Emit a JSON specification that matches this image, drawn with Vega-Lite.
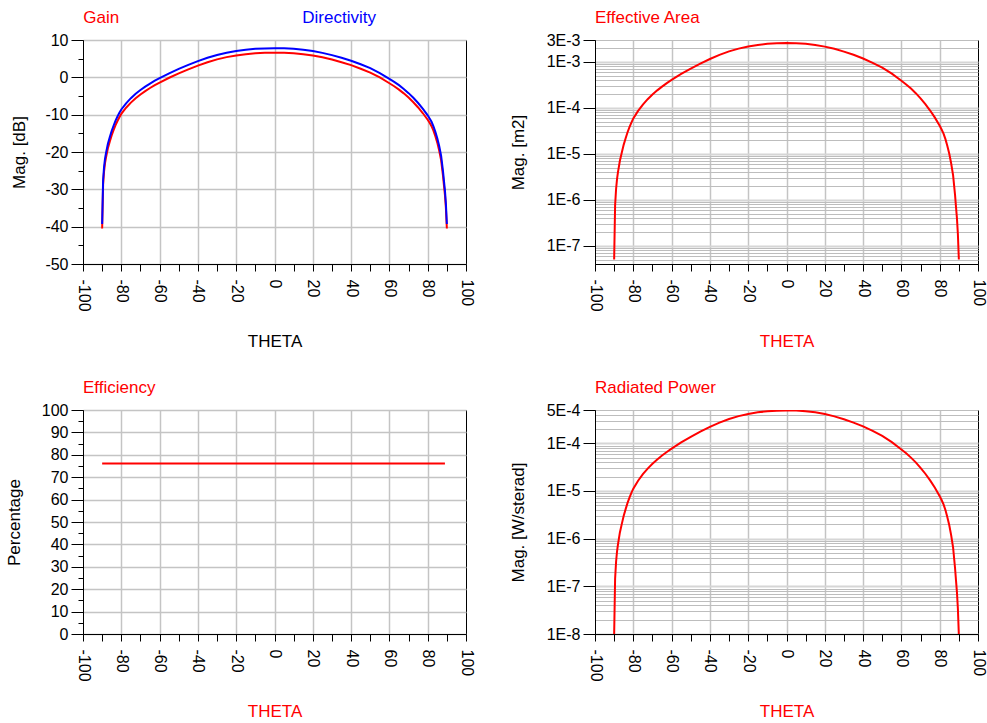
{
  "$schema": "https://vega.github.io/schema/vega-lite/v6.json",
  "padding": {"left": 4, "top": 8, "right": 0, "bottom": 0},
  "background": "white",
  "bounds": "flush",
  "columns": 2,
  "spacing": {"row": 146, "column": 129},
  "config": {
    "font": "Liberation Sans",
    "view": {"stroke": "#000000", "strokeWidth": 1},
    "axis": {
      "labelFont": "Liberation Sans", "labelFontSize": 16, "labelColor": "#000000",
      "titleFont": "Liberation Sans", "titleFontSize": 17, "titleFontWeight": "normal", "titleColor": "#000000",
      "domainColor": "#000000", "domainWidth": 1, "tickColor": "#000000", "tickWidth": 1,
      "gridColor": "#c4c4c4", "gridWidth": 1.5,
      "labelOverlap": false, "labelFlush": false, "labelBound": false
    },
    "title": {"font": "Liberation Sans", "fontSize": 17, "fontWeight": "normal", "color": "#ff0000", "anchor": "start", "frame": "group", "baseline": "alphabetic", "offset": 5.5}
  },
  "datasets": {
    "pattern": [
      {"theta": -90, "Directivity": -39.3, "Gain": -40.49, "efficiency": 76.1, "effArea": 5.01e-8, "radPower": 9.55e-9},
      {"theta": -89.5, "Directivity": -27.5, "Gain": -28.69, "efficiency": 76.1, "effArea": 7.59e-7, "radPower": 1.445e-7},
      {"theta": -89, "Directivity": -24.0, "Gain": -25.19, "efficiency": 76.1, "effArea": 1.698e-6, "radPower": 3.236e-7},
      {"theta": -88.5, "Directivity": -21.8, "Gain": -22.99, "efficiency": 76.1, "effArea": 2.818e-6, "radPower": 5.37e-7},
      {"theta": -88, "Directivity": -20.3, "Gain": -21.49, "efficiency": 76.1, "effArea": 3.981e-6, "radPower": 7.59e-7},
      {"theta": -87, "Directivity": -17.8, "Gain": -18.99, "efficiency": 76.1, "effArea": 7.079e-6, "radPower": 1.349e-6},
      {"theta": -86, "Directivity": -16.0, "Gain": -17.19, "efficiency": 76.1, "effArea": 1.072e-5, "radPower": 2.042e-6},
      {"theta": -85, "Directivity": -14.3, "Gain": -15.49, "efficiency": 76.1, "effArea": 1.585e-5, "radPower": 3.02e-6},
      {"theta": -84, "Directivity": -12.9, "Gain": -14.09, "efficiency": 76.1, "effArea": 2.188e-5, "radPower": 4.169e-6},
      {"theta": -83, "Directivity": -11.6, "Gain": -12.79, "efficiency": 76.1, "effArea": 2.951e-5, "radPower": 5.623e-6},
      {"theta": -82, "Directivity": -10.5, "Gain": -11.69, "efficiency": 76.1, "effArea": 3.802e-5, "radPower": 7.244e-6},
      {"theta": -81, "Directivity": -9.5, "Gain": -10.69, "efficiency": 76.1, "effArea": 4.786e-5, "radPower": 9.12e-6},
      {"theta": -80, "Directivity": -8.6, "Gain": -9.79, "efficiency": 76.1, "effArea": 5.888e-5, "radPower": 1.122e-5},
      {"theta": -77.5, "Directivity": -6.95, "Gain": -8.14, "efficiency": 76.1, "effArea": 8.61e-5, "radPower": 1.641e-5},
      {"theta": -75, "Directivity": -5.58, "Gain": -6.77, "efficiency": 76.1, "effArea": 1.18e-4, "radPower": 2.249e-5},
      {"theta": -72.5, "Directivity": -4.41, "Gain": -5.6, "efficiency": 76.1, "effArea": 1.545e-4, "radPower": 2.944e-5},
      {"theta": -70, "Directivity": -3.4, "Gain": -4.59, "efficiency": 76.1, "effArea": 1.95e-4, "radPower": 3.715e-5},
      {"theta": -67.5, "Directivity": -2.49, "Gain": -3.68, "efficiency": 76.1, "effArea": 2.404e-4, "radPower": 4.581e-5},
      {"theta": -65, "Directivity": -1.67, "Gain": -2.86, "efficiency": 76.1, "effArea": 2.904e-4, "radPower": 5.534e-5},
      {"theta": -62.5, "Directivity": -0.91, "Gain": -2.1, "efficiency": 76.1, "effArea": 3.459e-4, "radPower": 6.592e-5},
      {"theta": -60, "Directivity": -0.21, "Gain": -1.4, "efficiency": 76.1, "effArea": 4.064e-4, "radPower": 7.745e-5},
      {"theta": -55, "Directivity": 1.08, "Gain": -0.11, "efficiency": 76.1, "effArea": 5.47e-4, "radPower": 1.042e-4},
      {"theta": -50, "Directivity": 2.25, "Gain": 1.06, "efficiency": 76.1, "effArea": 7.161e-4, "radPower": 1.365e-4},
      {"theta": -45, "Directivity": 3.34, "Gain": 2.15, "efficiency": 76.1, "effArea": 9.204e-4, "radPower": 1.754e-4},
      {"theta": -40, "Directivity": 4.34, "Gain": 3.15, "efficiency": 76.1, "effArea": 1.159e-3, "radPower": 2.208e-4},
      {"theta": -35, "Directivity": 5.24, "Gain": 4.05, "efficiency": 76.1, "effArea": 1.426e-3, "radPower": 2.716e-4},
      {"theta": -30, "Directivity": 6.0, "Gain": 4.81, "efficiency": 76.1, "effArea": 1.698e-3, "radPower": 3.236e-4},
      {"theta": -25, "Directivity": 6.6, "Gain": 5.41, "efficiency": 76.1, "effArea": 1.95e-3, "radPower": 3.715e-4},
      {"theta": -20, "Directivity": 7.06, "Gain": 5.87, "efficiency": 76.1, "effArea": 2.168e-3, "radPower": 4.13e-4},
      {"theta": -15, "Directivity": 7.4, "Gain": 6.21, "efficiency": 76.1, "effArea": 2.344e-3, "radPower": 4.467e-4},
      {"theta": -10, "Directivity": 7.63, "Gain": 6.44, "efficiency": 76.1, "effArea": 2.472e-3, "radPower": 4.71e-4},
      {"theta": -5, "Directivity": 7.75, "Gain": 6.56, "efficiency": 76.1, "effArea": 2.541e-3, "radPower": 4.842e-4},
      {"theta": 0, "Directivity": 7.8, "Gain": 6.61, "efficiency": 76.1, "effArea": 2.57e-3, "radPower": 4.898e-4},
      {"theta": 5, "Directivity": 7.77, "Gain": 6.58, "efficiency": 76.1, "effArea": 2.553e-3, "radPower": 4.864e-4},
      {"theta": 10, "Directivity": 7.65, "Gain": 6.46, "efficiency": 76.1, "effArea": 2.483e-3, "radPower": 4.732e-4},
      {"theta": 15, "Directivity": 7.4, "Gain": 6.21, "efficiency": 76.1, "effArea": 2.344e-3, "radPower": 4.467e-4},
      {"theta": 20, "Directivity": 7.03, "Gain": 5.84, "efficiency": 76.1, "effArea": 2.153e-3, "radPower": 4.102e-4},
      {"theta": 25, "Directivity": 6.55, "Gain": 5.36, "efficiency": 76.1, "effArea": 1.928e-3, "radPower": 3.673e-4},
      {"theta": 30, "Directivity": 5.95, "Gain": 4.76, "efficiency": 76.1, "effArea": 1.679e-3, "radPower": 3.199e-4},
      {"theta": 35, "Directivity": 5.25, "Gain": 4.06, "efficiency": 76.1, "effArea": 1.429e-3, "radPower": 2.723e-4},
      {"theta": 40, "Directivity": 4.45, "Gain": 3.26, "efficiency": 76.1, "effArea": 1.189e-3, "radPower": 2.265e-4},
      {"theta": 45, "Directivity": 3.5, "Gain": 2.31, "efficiency": 76.1, "effArea": 9.55e-4, "radPower": 1.82e-4},
      {"theta": 50, "Directivity": 2.45, "Gain": 1.26, "efficiency": 76.1, "effArea": 7.499e-4, "radPower": 1.429e-4},
      {"theta": 55, "Directivity": 1.15, "Gain": -0.04, "efficiency": 76.1, "effArea": 5.559e-4, "radPower": 1.059e-4},
      {"theta": 60, "Directivity": -0.4, "Gain": -1.59, "efficiency": 76.1, "effArea": 3.89e-4, "radPower": 7.413e-5},
      {"theta": 62.5, "Directivity": -1.2, "Gain": -2.39, "efficiency": 76.1, "effArea": 3.236e-4, "radPower": 6.166e-5},
      {"theta": 65, "Directivity": -2.1, "Gain": -3.29, "efficiency": 76.1, "effArea": 2.63e-4, "radPower": 5.012e-5},
      {"theta": 67.5, "Directivity": -3.1, "Gain": -4.29, "efficiency": 76.1, "effArea": 2.089e-4, "radPower": 3.981e-5},
      {"theta": 70, "Directivity": -4.23, "Gain": -5.42, "efficiency": 76.1, "effArea": 1.611e-4, "radPower": 3.069e-5},
      {"theta": 72.5, "Directivity": -5.48, "Gain": -6.67, "efficiency": 76.1, "effArea": 1.208e-4, "radPower": 2.301e-5},
      {"theta": 75, "Directivity": -6.88, "Gain": -8.07, "efficiency": 76.1, "effArea": 8.75e-5, "radPower": 1.667e-5},
      {"theta": 77.5, "Directivity": -8.43, "Gain": -9.62, "efficiency": 76.1, "effArea": 6.124e-5, "radPower": 1.167e-5},
      {"theta": 80, "Directivity": -10.18, "Gain": -11.37, "efficiency": 76.1, "effArea": 4.093e-5, "radPower": 7.798e-6},
      {"theta": 81, "Directivity": -11.0, "Gain": -12.19, "efficiency": 76.1, "effArea": 3.388e-5, "radPower": 6.457e-6},
      {"theta": 82, "Directivity": -11.9, "Gain": -13.09, "efficiency": 76.1, "effArea": 2.754e-5, "radPower": 5.248e-6},
      {"theta": 83, "Directivity": -13.1, "Gain": -14.29, "efficiency": 76.1, "effArea": 2.089e-5, "radPower": 3.981e-6},
      {"theta": 84, "Directivity": -14.6, "Gain": -15.79, "efficiency": 76.1, "effArea": 1.479e-5, "radPower": 2.818e-6},
      {"theta": 85, "Directivity": -16.3, "Gain": -17.49, "efficiency": 76.1, "effArea": 1.0e-5, "radPower": 1.905e-6},
      {"theta": 86, "Directivity": -18.4, "Gain": -19.59, "efficiency": 76.1, "effArea": 6.166e-6, "radPower": 1.175e-6},
      {"theta": 87, "Directivity": -21.0, "Gain": -22.19, "efficiency": 76.1, "effArea": 3.388e-6, "radPower": 6.457e-7},
      {"theta": 88, "Directivity": -25.2, "Gain": -26.39, "efficiency": 76.1, "effArea": 1.288e-6, "radPower": 2.455e-7},
      {"theta": 88.5, "Directivity": -27.8, "Gain": -28.99, "efficiency": 76.1, "effArea": 7.079e-7, "radPower": 1.349e-7},
      {"theta": 89, "Directivity": -30.3, "Gain": -31.49, "efficiency": 76.1, "effArea": 3.981e-7, "radPower": 7.586e-8},
      {"theta": 89.5, "Directivity": -33.8, "Gain": -34.99, "efficiency": null, "effArea": 1.778e-7, "radPower": 3.388e-8},
      {"theta": 90, "Directivity": -39.3, "Gain": -40.49, "efficiency": null, "effArea": 5.01e-8, "radPower": 9.55e-9}
    ]
  },
  "concat": [
    {
      "width": 383, "height": 224,
      "data": {"name": "pattern"},
      "transform": [{"fold": ["Gain", "Directivity"], "as": ["series", "value"]}],
      "mark": {"type": "line", "strokeWidth": 2, "clip": true},
      "encoding": {
        "x": {"field": "theta", "type": "quantitative", "title": "THETA",
          "scale": {"domain": [-100, 100], "nice": false, "zero": false},
          "axis": {
            "values": [-100, -90, -80, -70, -60, -50, -40, -30, -20, -10, 0, 10, 20, 30, 40, 50, 60, 70, 80, 90, 100],
            "labelExpr": "datum.value % 20 == 0 ? '' + datum.value : ''",
            "labelAngle": 90, "labelPadding": 8, "tickSize": 7,
            "gridOpacity": {"condition": {"test": "datum.value % 20 != 0 || abs(datum.value) == 100", "value": 0}, "value": 1},
            "titleY": 82.5, "titleBaseline": "alphabetic", "titleColor": "#000000"
          }},
        "y": {"field": "value", "type": "quantitative", "title": "Mag. [dB]",
          "scale": {"domain": [-50, 10], "nice": false, "zero": false},
          "axis": {
            "values": [-50, -45, -40, -35, -30, -25, -20, -15, -10, -5, 0, 5, 10],
            "labelExpr": "datum.value % 10 == 0 ? '' + datum.value : ''",
            "tickSize": {"condition": {"test": "datum.value % 10 == 0", "value": 12}, "value": 5},
            "labelPadding": 3,
            "gridOpacity": {"condition": {"test": "datum.value % 10 != 0", "value": 0}, "value": 1},
            "titleX": -59, "titleBaseline": "alphabetic"
          }},
        "color": {"field": "series", "type": "nominal",
          "scale": {"domain": ["Gain", "Directivity"], "range": ["#ff0000", "#0000ff"]},
          "legend": {
            "orient": "top", "direction": "horizontal", "title": null,
            "symbolType": "circle", "symbolSize": 1, "symbolOpacity": 0, "symbolStrokeWidth": 0.5, "labelOffset": -16.7,
            "labelFont": "Liberation Sans", "labelFontSize": 17, "columnPadding": 182, "padding": 0, "offset": -17.5,
            "encode": {"labels": {"update": {"fill": {"signal": "datum.value === 'Gain' ? '#ff0000' : '#0000ff'"}}}}
          }}
      }
    },
    {
      "width": 383, "height": 224,
      "data": {"name": "pattern"},
      "title": {"text": "Effective Area"},
      "mark": {"type": "line", "color": "#ff0000", "strokeWidth": 2, "clip": true},
      "encoding": {
        "x": {"field": "theta", "type": "quantitative", "title": "THETA",
          "scale": {"domain": [-100, 100], "nice": false, "zero": false},
          "axis": {
            "values": [-100, -90, -80, -70, -60, -50, -40, -30, -20, -10, 0, 10, 20, 30, 40, 50, 60, 70, 80, 90, 100],
            "labelExpr": "datum.value % 20 == 0 ? '' + datum.value : ''",
            "labelAngle": 90, "labelPadding": 8, "tickSize": 7,
            "gridOpacity": {"condition": {"test": "datum.value % 20 != 0 || abs(datum.value) == 100", "value": 0}, "value": 1},
            "titleY": 82.5, "titleBaseline": "alphabetic", "titleColor": "#ff0000"
          }},
        "y": {"field": "effArea", "type": "quantitative", "title": "Mag. [m2]",
          "scale": {"type": "log", "domain": [4e-8, 3e-3], "nice": false, "zero": false},
          "axis": {
            "values": [5e-8, 6e-8, 7e-8, 8e-8, 9e-8, 1e-7, 2e-7, 3e-7, 4e-7, 5e-7, 6e-7, 7e-7, 8e-7, 9e-7, 1e-6, 2e-6, 3e-6, 4e-6, 5e-6, 6e-6, 7e-6, 8e-6, 9e-6, 1e-5, 2e-5, 3e-5, 4e-5, 5e-5, 6e-5, 7e-5, 8e-5, 9e-5, 1e-4, 2e-4, 3e-4, 4e-4, 5e-4, 6e-4, 7e-4, 8e-4, 9e-4, 1e-3, 2e-3, 3e-3],
            "labelExpr": "(datum.value > 2.9e-3 || substring(format(datum.value, '.0e'), 0, 1) == '1') ? upper(format(datum.value, '.0e')) : ''",
            "tickSize": {"condition": {"test": "datum.value > 2.9e-3 || substring(format(datum.value, '.0e'), 0, 1) == '1'", "value": 12}, "value": 0},
            "labelPadding": 3,
            "gridColor": {"condition": {"test": "substring(format(datum.value, '.0e'), 0, 1) == '1'", "value": "#d6d6d6"}, "value": "#bdbdbd"},
            "gridWidth": {"condition": {"test": "substring(format(datum.value, '.0e'), 0, 1) == '1'", "value": 2}, "value": 1},
            "titleX": -72, "titleBaseline": "alphabetic"
          }}
      }
    },
    {
      "width": 383, "height": 224,
      "data": {"name": "pattern"},
      "title": {"text": "Efficiency"},
      "mark": {"type": "line", "color": "#ff0000", "strokeWidth": 2, "clip": true},
      "encoding": {
        "x": {"field": "theta", "type": "quantitative", "title": "THETA",
          "scale": {"domain": [-100, 100], "nice": false, "zero": false},
          "axis": {
            "values": [-100, -90, -80, -70, -60, -50, -40, -30, -20, -10, 0, 10, 20, 30, 40, 50, 60, 70, 80, 90, 100],
            "labelExpr": "datum.value % 20 == 0 ? '' + datum.value : ''",
            "labelAngle": 90, "labelPadding": 8, "tickSize": 7,
            "gridOpacity": {"condition": {"test": "datum.value % 20 != 0 || abs(datum.value) == 100", "value": 0}, "value": 1},
            "titleY": 82.5, "titleBaseline": "alphabetic", "titleColor": "#ff0000"
          }},
        "y": {"field": "efficiency", "type": "quantitative", "title": "Percentage",
          "scale": {"domain": [0, 100], "nice": false, "zero": false},
          "axis": {
            "values": [0, 5, 10, 15, 20, 25, 30, 35, 40, 45, 50, 55, 60, 65, 70, 75, 80, 85, 90, 95, 100],
            "labelExpr": "datum.value % 10 == 0 ? '' + datum.value : ''",
            "tickSize": {"condition": {"test": "datum.value % 10 == 0", "value": 12}, "value": 5},
            "labelPadding": 3,
            "gridOpacity": {"condition": {"test": "datum.value % 10 != 0", "value": 0}, "value": 1},
            "titleX": -64, "titleBaseline": "alphabetic"
          }}
      }
    },
    {
      "width": 383, "height": 224,
      "data": {"name": "pattern"},
      "title": {"text": "Radiated Power"},
      "mark": {"type": "line", "color": "#ff0000", "strokeWidth": 2, "clip": true},
      "encoding": {
        "x": {"field": "theta", "type": "quantitative", "title": "THETA",
          "scale": {"domain": [-100, 100], "nice": false, "zero": false},
          "axis": {
            "values": [-100, -90, -80, -70, -60, -50, -40, -30, -20, -10, 0, 10, 20, 30, 40, 50, 60, 70, 80, 90, 100],
            "labelExpr": "datum.value % 20 == 0 ? '' + datum.value : ''",
            "labelAngle": 90, "labelPadding": 8, "tickSize": 7,
            "gridOpacity": {"condition": {"test": "datum.value % 20 != 0 || abs(datum.value) == 100", "value": 0}, "value": 1},
            "titleY": 82.5, "titleBaseline": "alphabetic", "titleColor": "#ff0000"
          }},
        "y": {"field": "radPower", "type": "quantitative", "title": "Mag. [W/sterad]",
          "scale": {"type": "log", "domain": [1e-8, 5e-4], "nice": false, "zero": false},
          "axis": {
            "values": [1e-8, 2e-8, 3e-8, 4e-8, 5e-8, 6e-8, 7e-8, 8e-8, 9e-8, 1e-7, 2e-7, 3e-7, 4e-7, 5e-7, 6e-7, 7e-7, 8e-7, 9e-7, 1e-6, 2e-6, 3e-6, 4e-6, 5e-6, 6e-6, 7e-6, 8e-6, 9e-6, 1e-5, 2e-5, 3e-5, 4e-5, 5e-5, 6e-5, 7e-5, 8e-5, 9e-5, 1e-4, 2e-4, 3e-4, 4e-4, 5e-4],
            "labelExpr": "(datum.value > 4.9e-4 || substring(format(datum.value, '.0e'), 0, 1) == '1') ? upper(format(datum.value, '.0e')) : ''",
            "tickSize": {"condition": {"test": "datum.value > 4.9e-4 || substring(format(datum.value, '.0e'), 0, 1) == '1'", "value": 12}, "value": 0},
            "labelPadding": 3,
            "gridColor": {"condition": {"test": "substring(format(datum.value, '.0e'), 0, 1) == '1'", "value": "#d6d6d6"}, "value": "#bdbdbd"},
            "gridWidth": {"condition": {"test": "substring(format(datum.value, '.0e'), 0, 1) == '1'", "value": 2}, "value": 1},
            "titleX": -72, "titleBaseline": "alphabetic"
          }}
      }
    }
  ]
}
